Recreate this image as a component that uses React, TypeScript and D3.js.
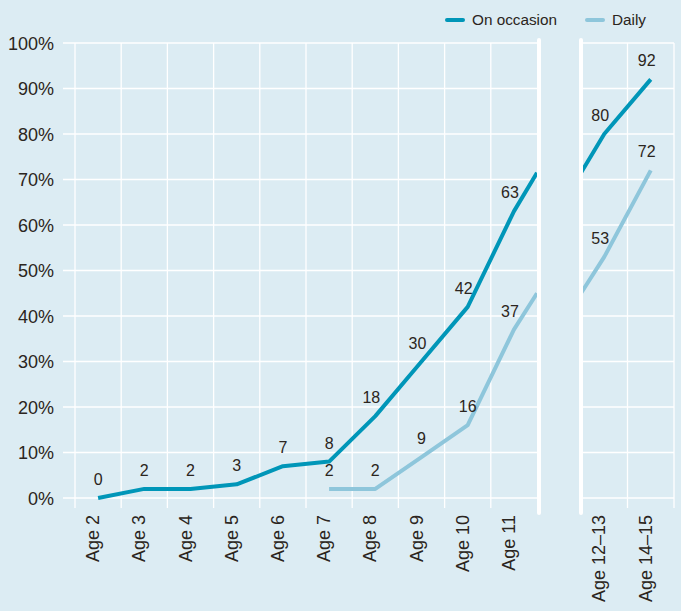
import React from "react";
import * as d3 from "d3";

const categoriesLeft = ["Age 2", "Age 3", "Age 4", "Age 5", "Age 6", "Age 7", "Age 8", "Age 9", "Age 10", "Age 11"];
const categoriesRight = ["Age 12\u201313", "Age 14\u201315"];
const onOccasion = [0, 2, 2, 3, 7, 8, 18, 30, 42, 63, 80, 92];
const daily: (number | null)[] = [null, null, null, null, null, 2, 2, 9, 16, 37, 53, 72];
const yTicks = [0, 10, 20, 30, 40, 50, 60, 70, 80, 90, 100];
const seriesNames = ["On occasion", "Daily"];

const W = 681;
const H = 611;
const BG = "#dcecf3";
const C_OCC = "#0096b8";
const C_DAILY = "#8ec6db";
const TEXT = "#2b2520";
const FONT = "'Liberation Sans', Arial, Helvetica, sans-serif";

export default function App() {
  const y = d3.scaleLinear().domain([0, 100]).range([498, 43]);
  const xL = d3.scaleBand<string>().domain(categoriesLeft).range([75, 537]).padding(0);
  const xR = d3.scaleBand<string>().domain(categoriesRight).range([581, 674]).padding(0);
  const allCats = [...categoriesLeft, ...categoriesRight];
  const cx = (c: string) =>
    categoriesLeft.includes(c) ? (xL(c) as number) + xL.bandwidth() / 2 : (xR(c) as number) + xR.bandwidth() / 2;

  const nL = categoriesLeft.length;
  type P = { x: number; v: number };
  const buildPanels = (vals: (number | null)[]) => {
    const left: P[] = [];
    const right: P[] = [];
    vals.forEach((v, i) => {
      if (v == null) return;
      const p = { x: cx(allCats[i]), v };
      if (i < nL) left.push(p);
      else right.push(p);
    });
    const a = vals[nL - 1];
    const b = vals[nL];
    if (a != null && b != null) {
      const mid = (a + b) / 2;
      left.push({ x: 537, v: mid });
      right.unshift({ x: 581, v: mid });
    }
    return [left, right];
  };

  const line = d3
    .line<P>()
    .x((d) => d.x)
    .y((d) => y(d.v));

  const series = [
    { name: seriesNames[0], vals: onOccasion, color: C_OCC },
    { name: seriesNames[1], vals: daily, color: C_DAILY },
  ];

  const panels = [
    { x0: 75, x1: 537, cats: categoriesLeft },
    { x0: 581, x1: 674, cats: categoriesRight },
  ];

  return (
    <svg width={W} height={H} style={{ display: "block", position: "absolute", left: 0, top: 0, background: BG }} fontFamily={FONT}>
      <rect x={0} y={0} width={W} height={H} fill={BG} />
      {/* grid */}
      {panels.map((p, pi) => (
        <g key={"grid" + pi}>
          {yTicks.map((t) => (
            <line key={t} x1={pi === 0 ? 63 : p.x0} x2={p.x1} y1={y(t)} y2={y(t)} stroke="#fff" strokeWidth={1.3} />
          ))}
          {[...p.cats.map((c) => (pi === 0 ? (xL(c) as number) : (xR(c) as number))), p.x1]
            .filter((xx) => !(pi === 0 && xx === p.x1) && !(pi === 1 && xx === p.x0))
            .map((xx, i) => (
              <line key={i} x1={xx} x2={xx} y1={y(100)} y2={508} stroke="#fff" strokeWidth={1.3} />
            ))}
        </g>
      ))}
      {/* y tick labels */}
      {yTicks.map((t) => (
        <text key={t} x={54} y={y(t) + 6.5} textAnchor="end" fontSize={18} fill={TEXT}>
          {t}%
        </text>
      ))}
      {/* lines */}
      {series.map((s) => {
        const [l, r] = buildPanels(s.vals);
        return (
          <g key={s.name}>
            <path d={line(l) || ""} fill="none" stroke={s.color} strokeWidth={4} strokeLinejoin="round" />
            <path d={line(r) || ""} fill="none" stroke={s.color} strokeWidth={4} strokeLinejoin="round" />
          </g>
        );
      })}
      {/* break bars */}
      {[539, 581].map((bx) => (
        <line key={bx} x1={bx} x2={bx} y1={40} y2={513} stroke="#fff" strokeWidth={4} strokeLinecap="round" />
      ))}
      {/* value labels */}
      {series.map((s) =>
        s.vals.map((v, i) => {
          if (v == null) return null;
          const prev = i > 0 ? s.vals[i - 1] : null;
          const slope = prev != null ? v - prev : 0;
          const dx = slope > 8 ? -4 : 0;
          return (
            <text key={s.name + i} x={cx(allCats[i]) + dx} y={y(v) - 13} textAnchor="middle" fontSize={16} fill={TEXT}>
              {v}
            </text>
          );
        })
      )}
      {/* x labels */}
      {allCats.map((c) => (
        <text
          key={c}
          transform={`translate(${cx(c) + 1},515) rotate(-90)`}
          textAnchor="end"
          fontSize={18}
          fill={TEXT}
        >
          {c}
        </text>
      ))}
      {/* legend */}
      <g>
        <line x1={447} x2={463} y1={20} y2={20} stroke={C_OCC} strokeWidth={4} strokeLinecap="round" />
        <text x={472} y={25} fontSize={15.3} fill={TEXT}>
          {seriesNames[0]}
        </text>
        <line x1={587} x2={603} y1={20} y2={20} stroke={C_DAILY} strokeWidth={4} strokeLinecap="round" />
        <text x={612} y={25} fontSize={15.3} fill={TEXT}>
          {seriesNames[1]}
        </text>
      </g>
    </svg>
  );
}
